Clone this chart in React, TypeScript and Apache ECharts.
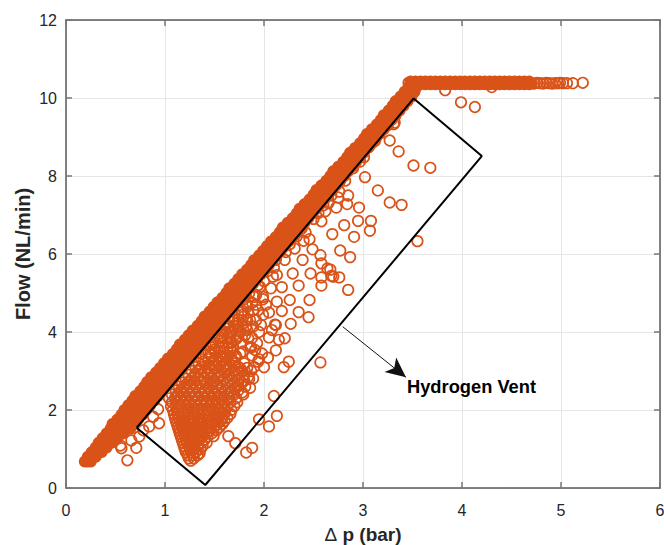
import React, { useEffect, useRef } from "react";
import * as echarts from "echarts";

const ORANGE = "#D95319";
const xTicks = [0, 1, 2, 3, 4, 5, 6];
const yTicks = [0, 2, 4, 6, 8, 10, 12];

const bandFlow = [0.68,0.8,0.92,1.04,1.16,1.28,1.4,1.52,1.64,1.76,1.88,2.0,2.12,2.24,2.36,2.48,2.6,2.72,2.84,2.96,3.08,3.2,3.32,3.44,3.56,3.68,3.8,3.92,4.04,4.16,4.28,4.4,4.52,4.64,4.76,4.88,5.0,5.12,5.24,5.36,5.48,5.6,5.72,5.84,5.96,6.08,6.2,6.32,6.44,6.56,6.68,6.8,6.92,7.04,7.16,7.28,7.4,7.52,7.64,7.76,7.88,8.0,8.12,8.24,8.36,8.48,8.6,8.72,8.84,8.96,9.08,9.2,9.32,9.44,9.56,9.68,9.8,9.92,10.04,10.16,10.28,10.36];
const bandLeft = [0.19,0.22,0.26,0.30,0.33,0.37,0.41,0.45,0.47,0.52,0.56,0.59,0.63,0.67,0.70,0.75,0.79,0.82,0.86,0.91,0.95,0.99,1.03,1.08,1.12,1.15,1.20,1.24,1.28,1.33,1.37,1.40,1.45,1.49,1.53,1.58,1.62,1.65,1.70,1.74,1.78,1.83,1.87,1.90,1.95,1.99,2.03,2.07,2.12,2.16,2.19,2.24,2.29,2.33,2.36,2.41,2.46,2.50,2.53,2.58,2.63,2.67,2.70,2.75,2.80,2.84,2.87,2.92,2.97,3.01,3.04,3.09,3.14,3.18,3.21,3.26,3.30,3.33,3.38,3.42,3.46,3.48];
const bandMid = [0.22,0.26,0.31,0.35,0.39,0.44,0.49,0.55,0.58,0.62,0.66,0.70,0.74,0.78,0.81,0.86,0.90,0.93,0.97,1.02,1.06,1.10,1.14,1.18,1.22,1.26,1.30,1.34,1.38,1.43,1.47,1.50,1.55,1.59,1.63,1.67,1.71,1.75,1.79,1.83,1.87,1.92,1.96,1.99,2.04,2.08,2.12,2.16,2.20,2.24,2.28,2.33,2.37,2.41,2.45,2.49,2.53,2.57,2.61,2.65,2.70,2.74,2.78,2.82,2.86,2.90,2.94,2.98,3.03,3.07,3.11,3.15,3.19,3.23,3.27,3.31,3.35,3.39,3.43,3.47,3.50,3.52];
const bandRight = [0.25,0.30,0.36,0.41,0.46,0.52,0.58,0.65,0.69,0.73,0.77,0.81,0.85,0.89,0.93,0.97,1.01,1.05,1.09,1.13,1.17,1.21,1.25,1.29,1.33,1.37,1.41,1.45,1.49,1.53,1.57,1.61,1.65,1.69,1.73,1.77,1.81,1.85,1.89,1.93,1.97,2.01,2.05,2.09,2.13,2.17,2.21,2.25,2.29,2.33,2.37,2.41,2.45,2.49,2.53,2.57,2.61,2.65,2.69,2.73,2.77,2.81,2.85,2.89,2.93,2.97,3.01,3.05,3.09,3.13,3.17,3.21,3.25,3.29,3.33,3.37,3.41,3.45,3.49,3.52,3.54,3.56];

const plateauDp = [3.48,3.53,3.58,3.63,3.68,3.73,3.78,3.83,3.88,3.93,3.98,4.03,4.08,4.13,4.18,4.23,4.28,4.33,4.38,4.43,4.48,4.53,4.58,4.63,4.68];
const plateauUpper = 10.42;
const plateauLower = 10.35;

const plateauRings: [number, number][] = [[3.46,10.39],[4.70,10.38],[4.73,10.37],[4.76,10.39],[4.79,10.38],[4.82,10.37],[4.85,10.39],[4.88,10.38],[4.91,10.37],[4.94,10.38],[4.97,10.38],[4.99,10.39],[5.02,10.38],[5.06,10.38],[5.12,10.38],[5.22,10.39],[4.30,10.28],[3.83,10.2]];

const sparseRings: [number, number][] = [[3.99,9.89],[4.13,9.77],[3.32,9.37],[3.31,9.33],[3.27,8.91],[3.36,8.63],[3.51,8.27],[3.68,8.21],[3.02,7.97],[3.15,7.63],[3.27,7.32],[3.39,7.26],[2.82,7.88],[2.76,7.60],[2.85,7.50],[2.84,7.28],[2.73,7.19],[2.96,7.19],[2.95,6.85],[3.08,6.85],[3.07,6.60],[2.81,6.74],[2.91,6.44],[2.69,6.51],[2.77,6.09],[2.87,5.92],[3.55,6.33],[2.76,5.40],[2.70,5.42],[2.85,5.08],[2.67,5.60],[3.01,8.48],[2.97,8.37],
[2.58,6.84],[2.46,6.38],[2.49,6.12],[2.57,5.97],[2.58,5.76],[2.64,5.63],[2.68,5.44],[2.58,5.40],[2.58,5.19],[2.47,5.50],[2.39,5.85],[2.29,5.50],[2.35,5.19],[2.18,5.15],[2.07,5.12],[2.26,4.82],[2.46,4.82],[2.35,4.51],[2.45,4.38],[2.27,4.21],[2.18,4.54],[2.13,4.78],[1.99,4.84],[2.05,4.50],[1.99,4.44],[2.11,4.19],[1.97,4.18],[2.08,4.05],[2.21,3.84],[2.15,3.80],[2.05,3.86],[2.12,3.53],[2.25,3.24],[2.20,3.10],[2.57,3.22],[2.00,3.10],[2.04,3.34],[1.94,3.24],[1.83,3.08],[1.76,3.07],[1.71,3.80],[1.67,3.75],[1.64,4.14],[1.61,4.10],[1.76,3.45],[1.72,3.37],[1.81,3.92],[1.84,3.84],[1.93,3.71],[1.86,3.62],[1.98,3.45],[1.91,3.54],[2.31,6.14],[2.21,5.85],[2.13,5.46],[2.09,5.42],[1.96,5.16],[1.89,4.56],[1.94,4.56],[1.86,4.31],[1.79,4.39],[1.72,4.22],[1.83,4.05],[1.89,4.14],[2.40,6.34],[2.60,7.25],[2.12,4.18],
[1.89,2.81],[1.86,2.57],[2.10,2.36],[2.13,1.85],[2.05,1.58],[1.95,1.76],[1.88,1.03],[1.82,0.91],[1.71,1.15],[1.64,1.33],[1.49,1.33],[1.35,0.89],[0.94,1.66],[0.71,1.03],[0.62,0.71],[0.56,1.02],[0.55,1.09],[0.78,1.48],[0.84,1.58],[0.74,1.32],[0.66,1.22],[0.88,1.83],[0.93,2.02]];

const denseFlow = [0.70,0.76,0.84,0.92,1.00,1.08,1.16,1.24,1.32,1.40,1.48,1.56,1.64,1.72,1.80,1.90,2.00,2.10,2.20,2.30,2.40,2.50,2.60,2.70,2.80,2.90,3.00,3.10,3.20,3.30,3.40,3.50,3.60,3.72,3.85,4.00,4.15,4.30,4.50,4.70,4.90];
const denseDp: number[][] = [
  [1.26],
  [1.24,1.29],
  [1.23,1.28,1.33],
  [1.21,1.26,1.31],
  [1.20,1.25,1.30,1.36],
  [1.19,1.24,1.28,1.33,1.38],
  [1.18,1.22,1.27,1.31,1.37,1.42],
  [1.17,1.21,1.26,1.30,1.35,1.40],
  [1.16,1.20,1.25,1.29,1.34,1.38,1.43],
  [1.15,1.19,1.24,1.28,1.33,1.37,1.42,1.47],
  [1.14,1.18,1.23,1.27,1.31,1.36,1.41,1.46,1.52],
  [1.13,1.17,1.22,1.26,1.30,1.35,1.39,1.44,1.50,1.55],
  [1.12,1.16,1.21,1.25,1.29,1.34,1.38,1.43,1.48,1.53,1.58],
  [1.11,1.15,1.20,1.24,1.28,1.33,1.37,1.42,1.46,1.51,1.56,1.60],
  [1.10,1.14,1.19,1.24,1.29,1.33,1.38,1.44,1.49,1.53,1.58,1.63],
  [1.09,1.13,1.18,1.23,1.28,1.34,1.39,1.44,1.50,1.55,1.60,1.66],
  [1.08,1.12,1.17,1.22,1.28,1.33,1.38,1.44,1.49,1.55,1.61,1.67],
  [1.06,1.11,1.16,1.22,1.27,1.33,1.39,1.45,1.51,1.57,1.63,1.70],
  [1.07,1.12,1.18,1.24,1.30,1.36,1.41,1.47,1.53,1.59,1.66,1.73],
  [1.04,1.10,1.16,1.21,1.27,1.33,1.39,1.46,1.52,1.58,1.65,1.72],
  [1.07,1.13,1.19,1.25,1.31,1.37,1.44,1.50,1.57,1.63,1.70,1.79],
  [1.11,1.16,1.22,1.28,1.34,1.41,1.47,1.54,1.61,1.67,1.74],
  [1.14,1.19,1.25,1.31,1.38,1.44,1.52,1.58,1.66,1.73,1.81],
  [1.17,1.23,1.29,1.36,1.42,1.49,1.56,1.63,1.70,1.78],
  [1.21,1.27,1.33,1.39,1.46,1.53,1.60,1.68,1.75,1.85],
  [1.24,1.30,1.36,1.43,1.50,1.57,1.65,1.72,1.80],
  [1.27,1.33,1.40,1.47,1.54,1.62,1.70,1.78,1.87],
  [1.31,1.37,1.44,1.51,1.59,1.66,1.74,1.90],
  [1.34,1.40,1.47,1.55,1.62,1.71,1.80],
  [1.37,1.44,1.51,1.59,1.67,1.95],
  [1.41,1.47,1.55,1.63,1.71,1.88],
  [1.44,1.51,1.59,1.68,1.79],
  [1.47,1.55,1.63,1.69,1.87],
  [1.51,1.59,1.67,1.77],
  [1.55,1.63,1.73,1.88],
  [1.60,1.68,1.76,1.95],
  [1.65,1.73,1.82],
  [1.70,1.78,1.92],
  [1.77,1.84],
  [1.83,1.92,2.02],
  [1.90,1.99],
];

const spillRings: [number, number][] = [[1.12,2.35],[1.3,2.35],[1.55,2.35],[1.16,2.45],[1.4,2.45],[1.66,2.45],[1.78,2.45],[1.19,2.55],[1.44,2.55],[1.71,2.55],[1.22,2.65],[1.46,2.65],[1.74,2.65],[1.25,2.75],[1.5,2.75],[1.8,2.75],[1.3,2.85],[1.54,2.85],[1.84,2.85],[1.43,2.95],[1.74,2.95],[1.35,3.05],[1.62,3.05],[1.51,3.15],[1.39,3.25],[1.69,3.25],[1.58,3.35],[1.46,3.45],[1.5,3.55],[1.66,3.55],
[1.48,3.7],[1.56,3.78],[1.64,3.72],[1.5,3.9],[1.58,3.9],[1.66,3.85],[1.74,3.9],[1.57,4.05],[1.66,4.02],[1.75,4.05],[1.6,4.2],[1.7,4.15],[1.78,4.2],[1.65,4.35],[1.74,4.32],[1.83,4.3],[1.7,4.5],[1.78,4.55],[1.74,4.68],[1.83,4.65],[1.8,4.85],[1.88,4.75],[1.85,5.0],[1.92,4.95],[1.94,5.2],[2.0,5.3],[2.03,5.55],[2.1,5.65],[2.12,5.85],[2.22,6.05],[2.26,6.25],[2.33,6.45],[2.42,6.55],[2.38,6.65],[2.5,6.9],[2.55,7.05],[2.62,7.1],[2.65,7.3],[2.68,7.5],[2.75,7.45],[2.76,7.85],[2.82,8.1],[2.9,8.2],[3.06,8.75],[3.12,8.9],[3.25,9.3]];

const ventDp = [0.714, 1.407, 4.2, 3.512, 0.714];
const ventFlow = [1.545, 0.077, 8.51, 9.99, 1.545];
const arrowFrom = [2.795, 4.136];
const arrowTo = [3.434, 2.838];
const annotation = "Hydrogen Vent";
const yTitle = "Flow (NL/min)";

export default function App() {
  const ref = useRef<HTMLDivElement>(null);
  useEffect(() => {
    const chart = echarts.init(ref.current!, null, { renderer: "svg" });
    const band: number[][] = [];
    bandFlow.forEach((f, i) => {
      band.push([bandLeft[i], f], [bandMid[i], f], [bandRight[i], f]);
    });
    plateauDp.forEach((d) => band.push([d, plateauUpper], [d, plateauLower]));
    const dense: number[][] = [];
    denseFlow.forEach((f, i) => denseDp[i].forEach((d) => dense.push([d, f])));
    const axisCommon = {
      type: "value" as const,
      axisLine: { show: true, onZero: false, lineStyle: { color: "#5a5a5a", width: 1.5 } },
      axisTick: { show: true, inside: true, length: 6, lineStyle: { color: "#777", width: 1.5 } },
    };
    const label = { color: "#262626", fontSize: 16, fontFamily: "Liberation Sans" };
    chart.setOption({
      animation: false,
      backgroundColor: "#fff",
      grid: { left: 66, top: 20, width: 594, height: 468, outerBoundsMode: "none" },
      xAxis: [
        {
          ...axisCommon, min: 0, max: 6, interval: 1, position: "bottom",
          axisLabel: { ...label, margin: 14, formatter: (v: number) => String(xTicks[v]) },
          splitLine: { show: true, lineStyle: { color: "#e6e6e6", width: 1 } },
          name: "{d|Δ}{b| p (bar)}", nameLocation: "middle", nameGap: 37, nameMoveOverlap: false,
          nameTextStyle: { rich: {
            d: { fontSize: 19, fontFamily: "Liberation Sans", color: "#262626" },
            b: { fontSize: 19, fontWeight: "bold", fontFamily: "Liberation Sans", color: "#262626" },
          } },
        },
        { ...axisCommon, min: 0, max: 6, interval: 1, position: "top", axisLabel: { show: false }, splitLine: { show: false } },
      ],
      yAxis: [
        {
          ...axisCommon, min: 0, max: 12, interval: 2, position: "left",
          axisLabel: { ...label, margin: 9, formatter: (v: number) => String(yTicks[v / 2]) },
          splitLine: { show: true, lineStyle: { color: "#e6e6e6", width: 1 } },
          name: yTitle, nameLocation: "middle", nameGap: 33, nameMoveOverlap: false,
          nameTextStyle: { fontSize: 20, fontWeight: "bold", fontFamily: "Liberation Sans", color: "#262626" },
        },
        { ...axisCommon, min: 0, max: 12, interval: 2, position: "right", axisLabel: { show: false }, splitLine: { show: false } },
      ],
      series: [
        {
          type: "scatter", symbol: "circle", symbolSize: 10.5, silent: true, large: false,
          data: [...sparseRings, ...plateauRings, ...dense, ...spillRings],
          itemStyle: { color: "rgba(0,0,0,0)", borderColor: ORANGE, borderWidth: 1.7, opacity: 1 },
        },
        {
          type: "scatter", symbol: "circle", symbolSize: 12, silent: true, large: false,
          data: band,
          itemStyle: { color: ORANGE, opacity: 1 },
        },
        {
          type: "line", silent: true, symbol: "none",
          data: ventDp.map((d, i) => [d, ventFlow[i]]),
          lineStyle: { color: "#000", width: 2 },
          markLine: {
            silent: true, animation: false, symbol: ["none", "arrow"], symbolSize: [14, 20],
            lineStyle: { color: "#111", width: 1, type: "solid" }, label: { show: false },
            data: [[{ coord: arrowFrom }, { coord: arrowTo }]],
          },
        },
      ],
      graphic: [
        {
          type: "text", left: 407, top: 377, z: 100,
          style: { text: annotation, font: 'bold 18.3px "Liberation Sans"', fill: "#000" },
        },
      ],
    });
    return () => chart.dispose();
  }, []);
  return <div ref={ref} style={{ position: "fixed", left: 0, top: 0, width: 664, height: 545 }} />;
}
